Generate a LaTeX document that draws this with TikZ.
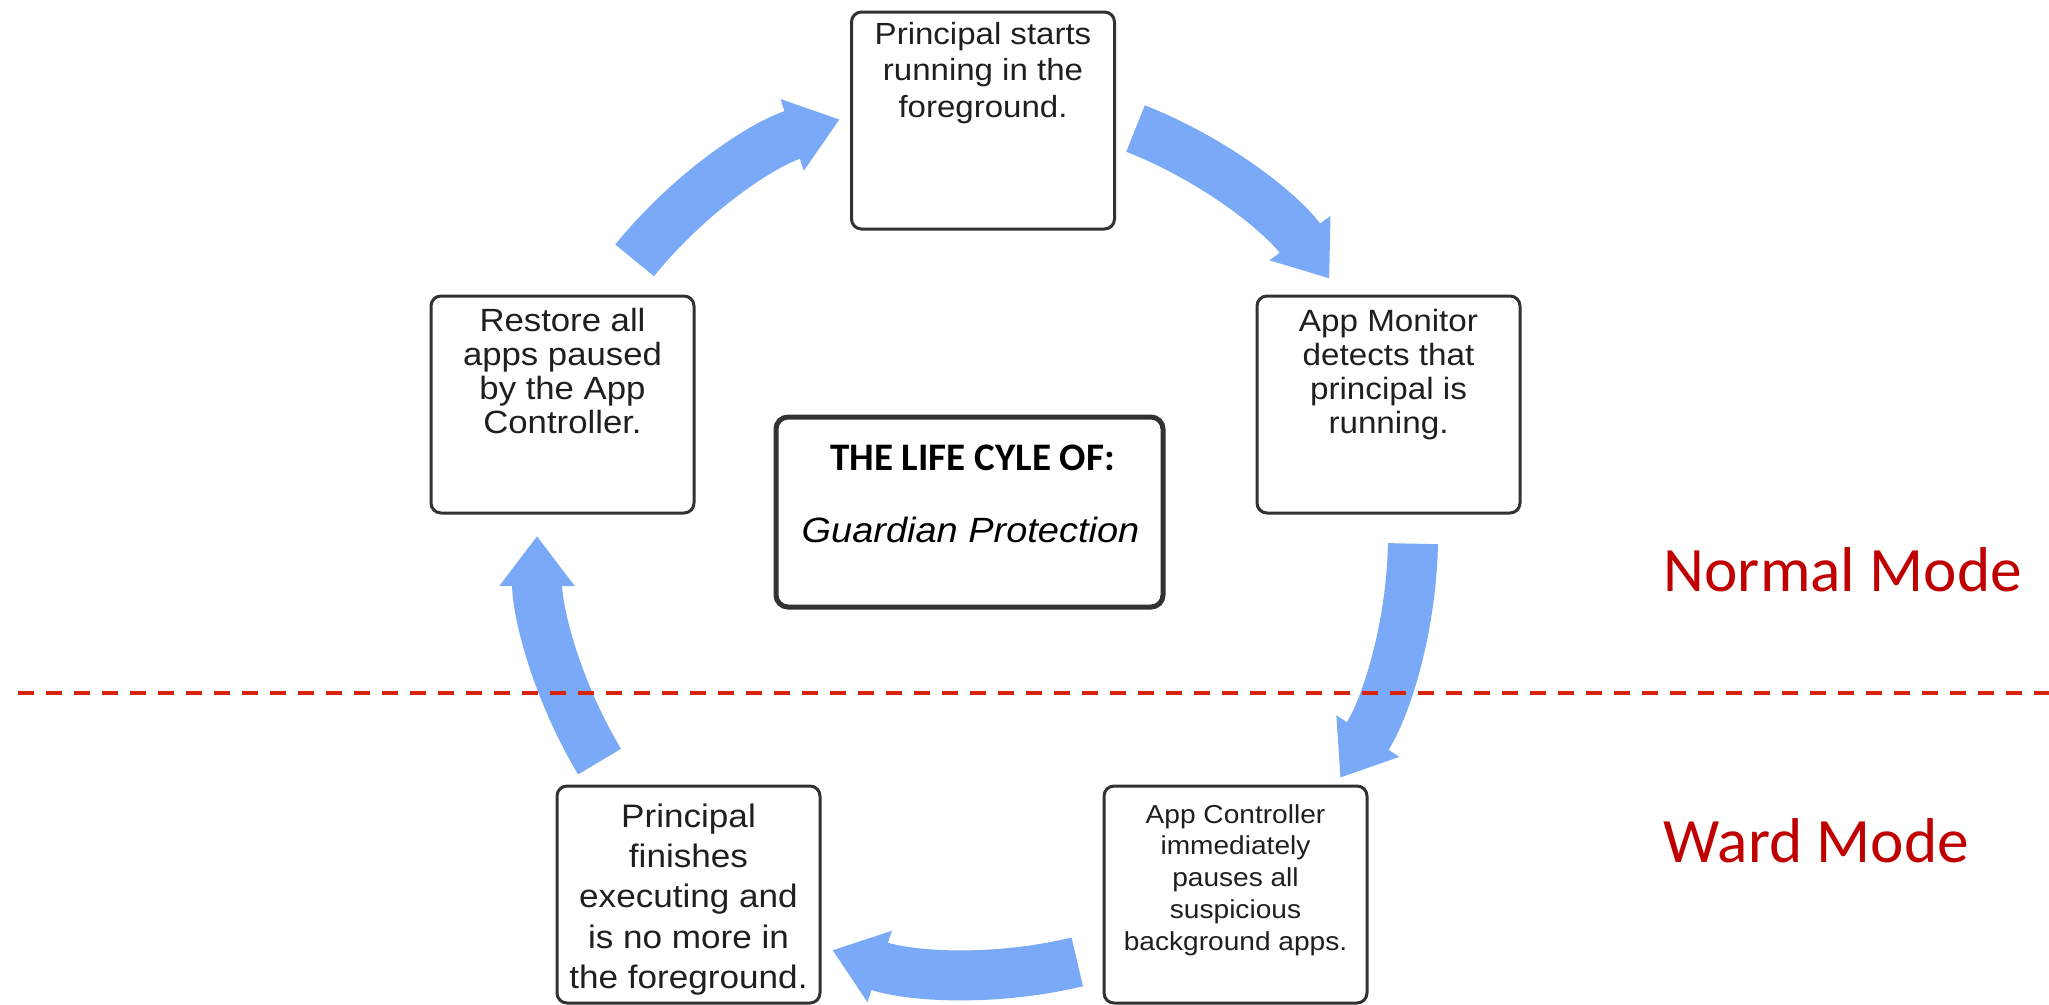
\documentclass[tikz,border=0pt]{standalone}
\usepackage{fontspec}
\setmainfont{Liberation Sans}
\newfontfamily\stepfont[FakeStretch=1.08]{Liberation Sans}
\newfontfamily\calibfont{Carlito}
\usetikzlibrary{arrows.meta,calc}

\definecolor{flow}{RGB}{122,170,247}
\definecolor{frame}{RGB}{50,50,50}
\definecolor{modered}{RGB}{192,0,0}
\definecolor{splitred}{RGB}{215,35,10}

% text of a step box: size, leading, first baseline below the top edge, lines
\newcommand{\steptext}[4]{%
  \parbox[t][2.17cm][t]{2.63cm}{\stepfont\fontsize{#1}{#2}\selectfont\centering\rule{0pt}{#3}#4}}

\begin{document}
\begin{tikzpicture}[
  stepbox/.style={draw=frame, line width=0.03cm, rounded corners=0.1cm,
    inner sep=0pt, fill=white, text=black!88},
  hubbox/.style={draw=frame, line width=0.05cm, rounded corners=0.12cm,
    minimum width=3.87cm, minimum height=1.9cm, inner sep=0pt, fill=white},
  cyc/.style={draw=flow, line width=0.5cm,
    -{Triangle[width=0.72cm,length=0.5cm]}},
  modelabel/.style={font=\calibfont\fontsize{18pt}{22pt}\selectfont,
    text=modered, anchor=base west, inner sep=0pt},
  split/.style={draw=splitred, line width=0.04cm,
    dash pattern=on 0.16cm off 0.12cm}
]
\fill[white] (0,0) rectangle (20.49,-10.04);
\useasboundingbox (0,0) rectangle (20.49,-10.04);

% the five stages of the cycle
\node[stepbox] (start) at (9.83,-1.205)
  {\steptext{8.7pt}{10.5pt}{0.32cm}{Principal starts\\running in the\\foreground.}};
\node[stepbox] (detect) at (13.885,-4.045)
  {\steptext{8.75pt}{9.7pt}{0.35cm}{App Monitor\\detects that\\principal is\\running.}};
\node[stepbox] (pause) at (12.355,-8.945)
  {\steptext{7.4pt}{9.1pt}{0.37cm}{App Controller\\immediately\\pauses all\\suspicious\\background apps.}};
\node[stepbox] (finish) at (6.885,-8.945)
  {\steptext{9.25pt}{11.5pt}{0.41cm}{Principal\\finishes\\executing and\\is no more in\\the foreground.}};
\node[stepbox] (restore) at (5.625,-4.045)
  {\steptext{9.15pt}{9.7pt}{0.35cm}{Restore all\\apps paused\\by the App\\Controller.}};

% title in the middle
\node[hubbox] (hub) at (9.695,-5.12) {};
\node[anchor=base, inner sep=0pt,
  font=\calibfont\bfseries\fontsize{11.1pt}{13pt}\selectfont]
  (hubtitle) at ($(hub.north)+(0.03,-0.56)$) {THE LIFE CYLE OF:};
\node[anchor=base, inner sep=0pt,
  font=\stepfont\itshape\fontsize{10pt}{12pt}\selectfont]
  (hubsub) at ($(hub.north)+(0.01,-1.28)$) {Guardian Protection};

% curved arrows around the ring
\def\R{4.38}
\coordinate (ring) at (9.75,-5.36);
\foreach \n/\a/\b in {1/141/108, 2/68.5/36, 3/-1/-33.5, 4/-76.5/-109, 5/-149/-180} {
  \coordinate (tail\n) at ($(ring)+(\a:\R)$);
  \draw[cyc] (tail\n) arc[start angle=\a, end angle=\b, radius=\R];
}

% mode labels and the boundary between them
\node[modelabel] (normal) at (16.63,-5.91) {Normal Mode};
\node[modelabel] (ward) at (16.63,-8.62) {Ward Mode};
\coordinate (splitL) at (0.18,-6.93);
\coordinate (splitR) at (20.49,-6.93);
\draw[split] (splitL) -- (splitR);
\end{tikzpicture}
\end{document}
